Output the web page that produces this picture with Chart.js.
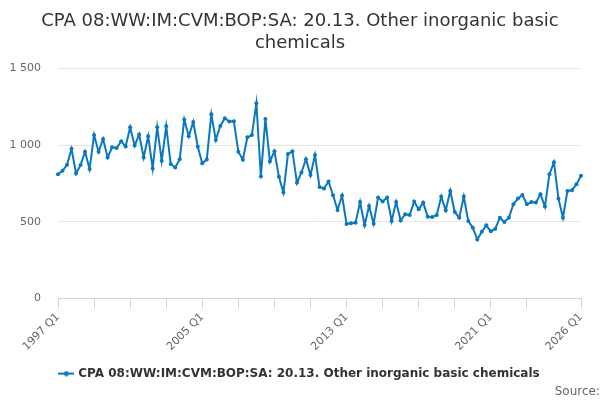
<!DOCTYPE html>
<html>
<head>
<meta charset="utf-8">
<script src="https://cdn.jsdelivr.net/npm/chart.js@4"></script>
<style>
  html, body { margin: 0; padding: 0; background: #fff; }
  #wrap { width: 600px; height: 400px; }
</style>
</head>
<body>
<div id="wrap"><canvas id="chart"></canvas></div>
<script>
// quarterly series, 1997 Q1 .. 2026 Q1
const firstYear = 1997;
const lastYear = 2026;
const quarters = [];
for (let y = firstYear; y <= lastYear; y++) {
  for (let q = 1; q <= 4; q++) {
    if (y === lastYear && q > 1) break;
    quarters.push(y + " Q" + q);
  }
}

const values = [
  810, 832, 871, 975, 815, 869, 956, 843, 1065, 956,
  1039, 919, 985, 980, 1024, 991, 1116, 996, 1068, 919,
  1057, 847, 1116, 897, 1122, 876, 854, 908, 1166, 1057,
  1150, 989, 881, 906, 1200, 1033, 1124, 1174, 1153, 1155,
  956, 904, 1050, 1065, 1272, 795, 1170, 893, 959, 793,
  690, 941, 959, 754, 821, 908, 804, 935, 727, 717,
  762, 673, 577, 671, 486, 490, 494, 629, 479, 603,
  488, 658, 632, 658, 505, 629, 508, 549, 544, 632,
  581, 625, 533, 531, 544, 664, 575, 701, 564, 527,
  664, 505, 462, 385, 435, 477, 438, 455, 527, 499,
  527, 614, 651, 675, 614, 629, 625, 680, 599, 810,
  887, 651, 527, 701, 706, 745, 799
];

const shownTicks = ["1997 Q1", "2005 Q1", "2013 Q1", "2021 Q1", "2026 Q1"];
const yTicks = [0, 500, 1000, 1500];

const seriesName = "CPA 08:WW:IM:CVM:BOP:SA: 20.13. Other inorganic basic chemicals";
const lineColor = "#0b77be";

// legend symbol: short line with a dot, like the original
const sym = document.createElement("canvas");
sym.width = 16; sym.height = 6;
const sctx = sym.getContext("2d");
sctx.strokeStyle = lineColor; sctx.lineWidth = 2;
sctx.beginPath(); sctx.moveTo(0, 3); sctx.lineTo(16, 3); sctx.stroke();
sctx.fillStyle = lineColor;
sctx.beginPath(); sctx.arc(8, 3, 2.5, 0, Math.PI * 2); sctx.fill();

function fmt(v) {
  return String(v).replace(/\B(?=(\d{3})+(?!\d))/g, " ");
}

function hasTick(i) {
  return (i % 8 === 0 && i <= quarters.length - 12) || i === quarters.length - 1;
}

Chart.defaults.font.family = "'DejaVu Sans', sans-serif";

new Chart(document.getElementById("chart"), {
  type: "line",
  data: {
    labels: quarters,
    datasets: [{
      label: seriesName,
      data: values,
      borderColor: lineColor,
      backgroundColor: lineColor,
      borderWidth: 2,
      pointRadius: 2,
      pointHoverRadius: 3,
      pointBorderWidth: 0,
      tension: 0
    }]
  },
  options: {
    responsive: true,
    maintainAspectRatio: false,
    animation: false,
    layout: { padding: { left: 0, right: 0, top: 8, bottom: 1 } },
    plugins: {
      title: {
        display: true,
        text: ["CPA 08:WW:IM:CVM:BOP:SA: 20.13. Other inorganic basic", "chemicals"],
        color: "#333333",
        font: { size: 18, weight: "normal" },
        lineHeight: 1.1,
        padding: { top: 3, bottom: 14 }
      },
      subtitle: {
        display: true,
        position: "bottom",
        align: "end",
        text: "Source:",
        color: "#666666",
        font: { size: 12, weight: "normal" },
        padding: { top: -5, bottom: 0 }
      },
      legend: {
        position: "bottom",
        labels: {
          color: "#333333",
          font: { size: 12, weight: "bold" },
          usePointStyle: true,
          generateLabels: (chart) => [{
            text: seriesName,
            pointStyle: sym,
            fontColor: "#333333",
            datasetIndex: 0,
            hidden: false
          }],
          padding: 3
        }
      },
      tooltip: { enabled: false }
    },
    scales: {
      x: {
        offset: false,
        border: { color: "#ccd6eb" },
        grid: {
          drawOnChartArea: false,
          tickLength: 10,
          color: (ctx) => hasTick(ctx.index) ? "#ccd6eb" : "rgba(0,0,0,0)"
        },
        ticks: {
          autoSkip: false,
          minRotation: 45,
          maxRotation: 45,
          color: "#666666",
          font: { size: 11 },
          padding: 2,
          callback: function (val, i) {
            const lab = quarters[i];
            return shownTicks.includes(lab) ? lab : "";
          }
        },
        afterFit: (scale) => { scale.height = 66; }
      },
      y: {
        min: 0,
        max: 1500,
        border: { display: false },
        grid: { color: "#e6e6e6", drawTicks: false },
        afterBuildTicks: (scale) => { scale.ticks = yTicks.map(v => ({ value: v })); },
        ticks: {
          color: "#666666",
          font: { size: 11 },
          padding: 17,
          callback: (v) => fmt(v)
        },
        afterFit: (scale) => { scale.width = 58; }
      },
      // empty right-hand gutter so the plot stops where the original does
      gutter: {
        type: "linear",
        position: "right",
        display: true,
        min: 0,
        max: 1,
        border: { display: false },
        grid: { display: false },
        ticks: { display: false },
        afterFit: (scale) => { scale.width = 19; }
      }
    }
  }
});
</script>
</body>
</html>
